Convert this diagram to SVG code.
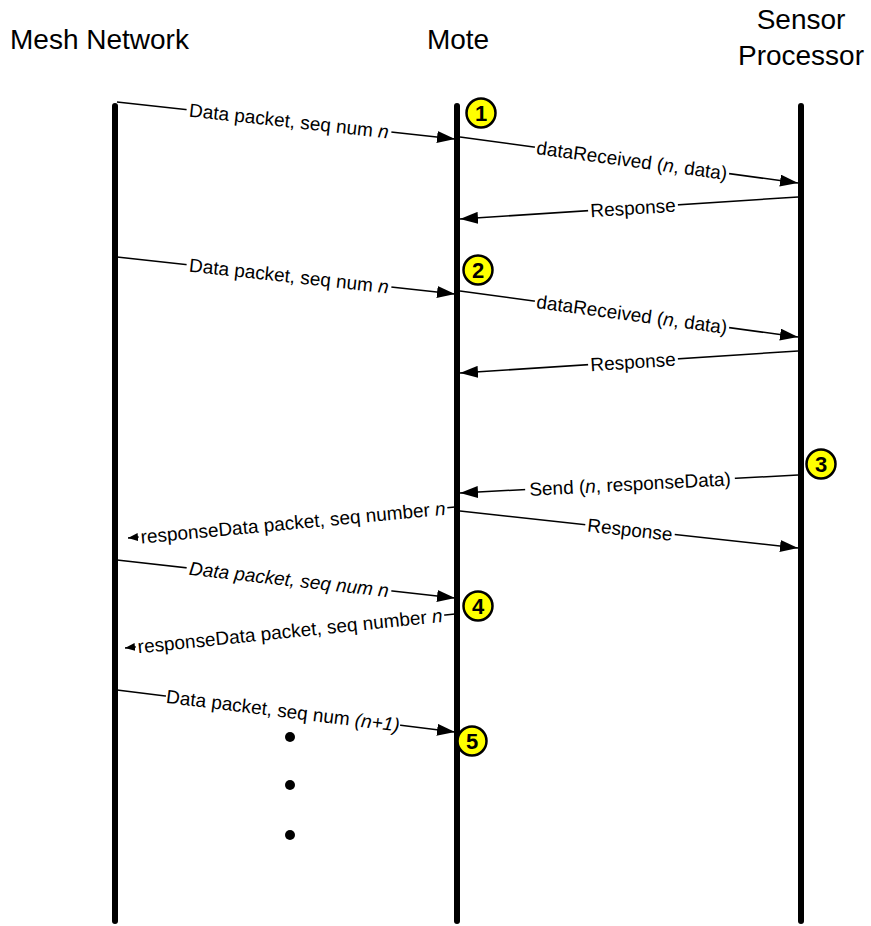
<svg xmlns="http://www.w3.org/2000/svg" width="871" height="926" viewBox="0 0 871 926">
  <style>
    .head { font-family: "Liberation Sans", Arial, sans-serif; font-size: 28px; fill: #000; }
    .lbl { font-family: "Liberation Sans", Arial, sans-serif; font-size: 19px; fill: #000; }
    .it { font-style: italic; }
    .life { stroke: #000; stroke-width: 6; stroke-linecap: round; fill: none; }
    .msg { stroke: #000; stroke-width: 1.5; fill: none; marker-end: url(#arrow); }
    .msg-s { stroke: #000; stroke-width: 1.5; fill: none; marker-end: url(#arrowSmall); }
    .bg { fill: #fff; }
    .step circle { fill: #ffff00; stroke: #000; stroke-width: 2.5; }
    .step text { font-family: "Liberation Sans", Arial, sans-serif; font-size: 22px; font-weight: bold; fill: #000; text-anchor: middle; }
    .dot { fill: #000; }
  </style>
  <defs>
    <marker id="arrow" markerUnits="userSpaceOnUse" markerWidth="18" markerHeight="12" refX="18" refY="6" orient="auto">
      <path d="M0,0 L18,6 L0,12 z" fill="#000"/>
    </marker>
    <marker id="arrowSmall" markerUnits="userSpaceOnUse" markerWidth="10" markerHeight="8" refX="10" refY="4" orient="auto">
      <path d="M0,0 L10,4 L0,8 z" fill="#000"/>
    </marker>
  </defs>

  <!-- participants -->
  <g id="mesh-network">
    <text class="head" x="10" y="49">Mesh Network</text>
    <line class="life" x1="115" y1="106" x2="115" y2="921"/>
  </g>
  <g id="mote">
    <text class="head" x="458" y="49" text-anchor="middle">Mote</text>
    <line class="life" x1="457" y1="106" x2="457" y2="921"/>
  </g>
  <g id="sensor-processor">
    <text class="head" x="801" y="29" text-anchor="middle">Sensor</text>
    <text class="head" x="801" y="65" text-anchor="middle">Processor</text>
    <line class="life" x1="801" y1="106" x2="801" y2="921"/>
  </g>

  <!-- messages -->
  <g id="connectors">
    <line class="msg" x1="117" y1="102" x2="455" y2="139"/>
    <line class="msg" x1="460" y1="137" x2="798" y2="183"/>
    <line class="msg" x1="798" y1="197" x2="460" y2="219"/>
    <line class="msg" x1="117" y1="257" x2="455" y2="294"/>
    <line class="msg" x1="460" y1="291" x2="798" y2="337"/>
    <line class="msg" x1="798" y1="351" x2="460" y2="373"/>
    <line class="msg" x1="798" y1="475" x2="460" y2="493"/>
    <line class="msg-s" x1="455" y1="507" x2="128" y2="538"/>
    <line class="msg" x1="460" y1="511" x2="798" y2="548"/>
    <line class="msg" x1="117" y1="560" x2="455" y2="598"/>
    <line class="msg-s" x1="455" y1="614" x2="125" y2="648"/>
    <line class="msg" x1="117" y1="690" x2="455" y2="732"/>

    <!-- labels sit on their lines over a white band -->
    <g transform="translate(289,120.8) rotate(6.25)">
      <rect class="bg" x="-103" y="-10" width="206" height="20"/>
      <text class="lbl" text-anchor="middle" dy="0.35em">Data packet, seq num <tspan class="it">n</tspan></text>
    </g>
    <g transform="translate(632,160.4) rotate(7.75)">
      <rect class="bg" x="-98" y="-10" width="196" height="20"/>
      <text class="lbl" text-anchor="middle" dy="0.35em">dataReceived (<tspan class="it">n</tspan>, data)</text>
    </g>
    <g transform="translate(633,207.8) rotate(-3.75)">
      <rect class="bg" x="-45" y="-10" width="90" height="20"/>
      <text class="lbl" text-anchor="middle" dy="0.35em">Response</text>
    </g>
    <g transform="translate(289,275.8) rotate(6.25)">
      <rect class="bg" x="-103" y="-10" width="206" height="20"/>
      <text class="lbl" text-anchor="middle" dy="0.35em">Data packet, seq num <tspan class="it">n</tspan></text>
    </g>
    <g transform="translate(632,314.4) rotate(7.75)">
      <rect class="bg" x="-98" y="-10" width="196" height="20"/>
      <text class="lbl" text-anchor="middle" dy="0.35em">dataReceived (<tspan class="it">n</tspan>, data)</text>
    </g>
    <g transform="translate(633,361.8) rotate(-3.75)">
      <rect class="bg" x="-45" y="-10" width="90" height="20"/>
      <text class="lbl" text-anchor="middle" dy="0.35em">Response</text>
    </g>
    <g transform="translate(630,484) rotate(-3.07)">
      <rect class="bg" x="-105" y="-10" width="210" height="20"/>
      <text class="lbl" text-anchor="middle" dy="0.35em">Send (<tspan class="it">n</tspan>, responseData)</text>
    </g>
    <g transform="translate(293,522.5) rotate(-5.4)">
      <rect class="bg" x="-155" y="-10" width="310" height="20"/>
      <text class="lbl" text-anchor="middle" dy="0.35em">responseData packet, seq number <tspan class="it">n</tspan></text>
    </g>
    <g transform="translate(630,529.6) rotate(6.25)">
      <rect class="bg" x="-45" y="-10" width="90" height="20"/>
      <text class="lbl" text-anchor="middle" dy="0.35em">Response</text>
    </g>
    <g transform="translate(289,579.3) rotate(6.4)">
      <rect class="bg" x="-103" y="-10" width="206" height="20"/>
      <text class="lbl it" text-anchor="middle" dy="0.35em">Data packet, seq num n</text>
    </g>
    <g transform="translate(290,631) rotate(-5.9)">
      <rect class="bg" x="-155" y="-10" width="310" height="20"/>
      <text class="lbl" text-anchor="middle" dy="0.35em">responseData packet, seq number <tspan class="it">n</tspan></text>
    </g>
    <g transform="translate(283,710.6) rotate(7.08)">
      <rect class="bg" x="-118" y="-10" width="236" height="20"/>
      <text class="lbl" text-anchor="middle" dy="0.35em">Data packet, seq num <tspan class="it">(n+1)</tspan></text>
    </g>
  </g>

  <!-- numbered steps -->
  <g id="step-1" class="step"><circle cx="481" cy="113" r="14.5"/><text x="481" y="121">1</text></g>
  <g id="step-2" class="step"><circle cx="478" cy="270" r="14.5"/><text x="478" y="278">2</text></g>
  <g id="step-3" class="step"><circle cx="821" cy="464" r="14.5"/><text x="821" y="472">3</text></g>
  <g id="step-4" class="step"><circle cx="478" cy="606" r="14.5"/><text x="478" y="614">4</text></g>
  <g id="step-5" class="step"><circle cx="472" cy="741" r="14.5"/><text x="472" y="749">5</text></g>

  <!-- continuation dots -->
  <g id="ellipsis">
    <circle class="dot" cx="290" cy="737" r="5"/>
    <circle class="dot" cx="290" cy="785" r="5"/>
    <circle class="dot" cx="290" cy="835" r="5"/>
  </g>
</svg>
